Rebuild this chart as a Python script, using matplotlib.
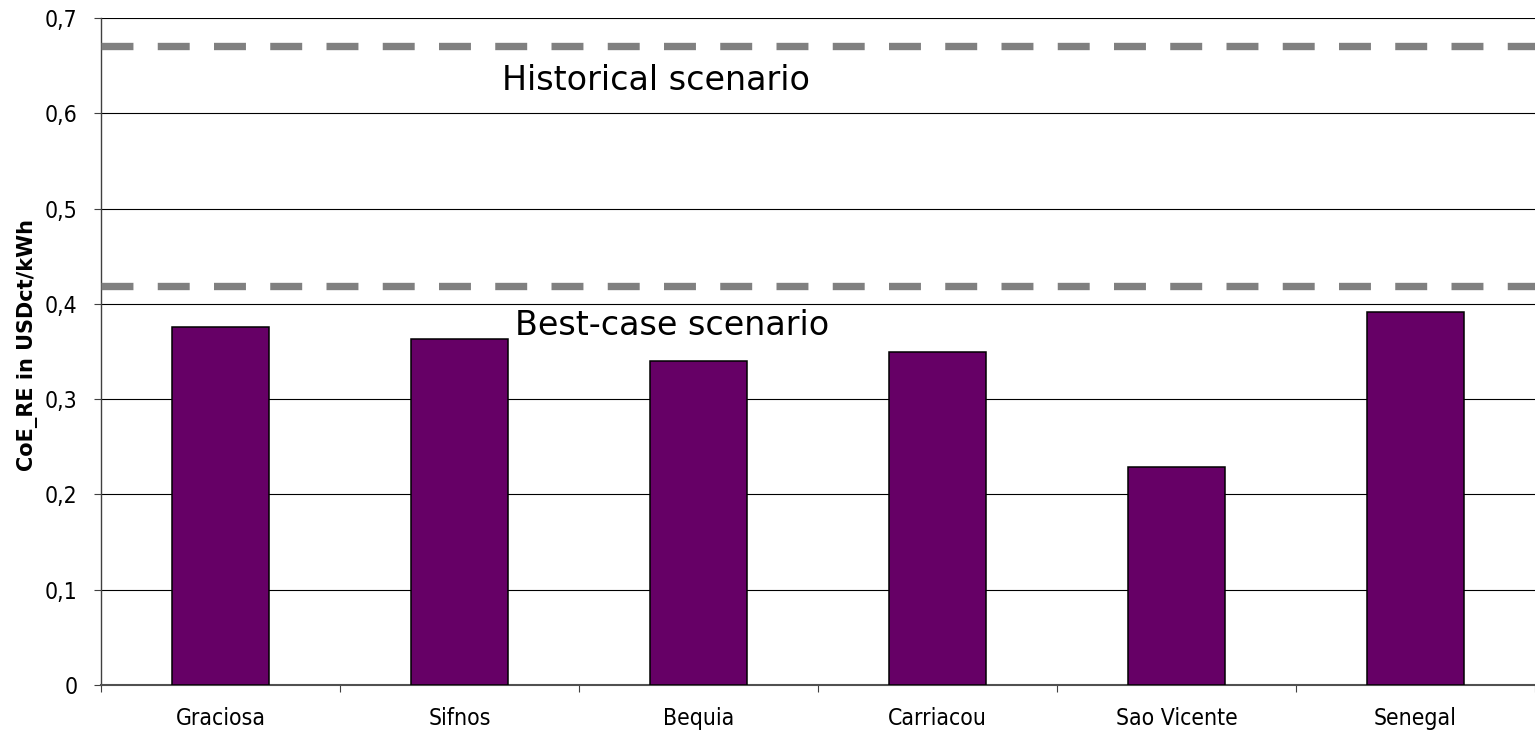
import matplotlib.pyplot as plt
import numpy as np

# Data
sites = ['Graciosa', 'Sifnos', 'Bequia', 'Carriacou', 'Sao Vicente', 'Senegal']
coe_re = [0.376, 0.363, 0.340, 0.349, 0.229, 0.391]
historical = 0.671
best_case = 0.419
yticks = [0, 0.1, 0.2, 0.3, 0.4, 0.5, 0.6, 0.7]
ytick_labels = ['0', '0,1', '0,2', '0,3', '0,4', '0,5', '0,6', '0,7']

plt.rcParams['font.family'] = ['DejaVu Sans']
plt.rcParams['lines.scale_dashes'] = False

fig = plt.figure(figsize=(15.35, 7.32), dpi=100)
ax = fig.add_axes([101 / 1535, 1 - 685 / 732, 1 - 101 / 1535, (685 - 18) / 732])

x = np.arange(len(sites))
ax.bar(x, coe_re, width=0.41, color='#660066', edgecolor='black', linewidth=1.1, zorder=3)

# Scenario lines
for val in (historical, best_case):
    ax.axhline(val, color='#808080', linewidth=5.3, dashes=(23, 17.5), zorder=4)
ax.text(1.178, 0.624, 'Historical scenario', fontsize=24, va='baseline', ha='left', zorder=5)
ax.text(1.232, 0.367, 'Best-case scenario', fontsize=24, va='baseline', ha='left', zorder=5)

ax.set_xlim(-0.5, len(sites) - 0.5)
ax.set_ylim(0, 0.7)
ax.set_yticks(yticks)
ax.set_yticklabels(ytick_labels, fontsize=16.5, fontstretch='condensed')
ax.set_xticks(x)
ax.set_xticklabels(sites, fontsize=16.5, fontstretch='condensed')
ax.set_xticks(np.arange(-0.5, len(sites)), minor=True)
ax.tick_params(axis='x', which='major', length=0, pad=16)
ax.tick_params(axis='x', which='minor', length=5, width=0.8, color='#404040', direction='out')
ax.tick_params(axis='y', length=5, width=0.8, color='#404040', direction='out', pad=12)

ax.yaxis.grid(True, color='black', linewidth=0.8, zorder=0)
ax.set_axisbelow(True)
ax.spines['right'].set_visible(False)
ax.spines['top'].set_visible(False)
ax.spines['left'].set_color('#404040')
ax.spines['left'].set_linewidth(1.0)
ax.spines['bottom'].set_color('#505050')
ax.spines['bottom'].set_linewidth(1.5)

ax.set_ylabel('CoE_RE in USDct/kWh', fontsize=15, fontweight='bold',
              fontstretch='normal', labelpad=5)
ax.yaxis.label.set_y(0.51)

fig.savefig('out.png', dpi=100)
